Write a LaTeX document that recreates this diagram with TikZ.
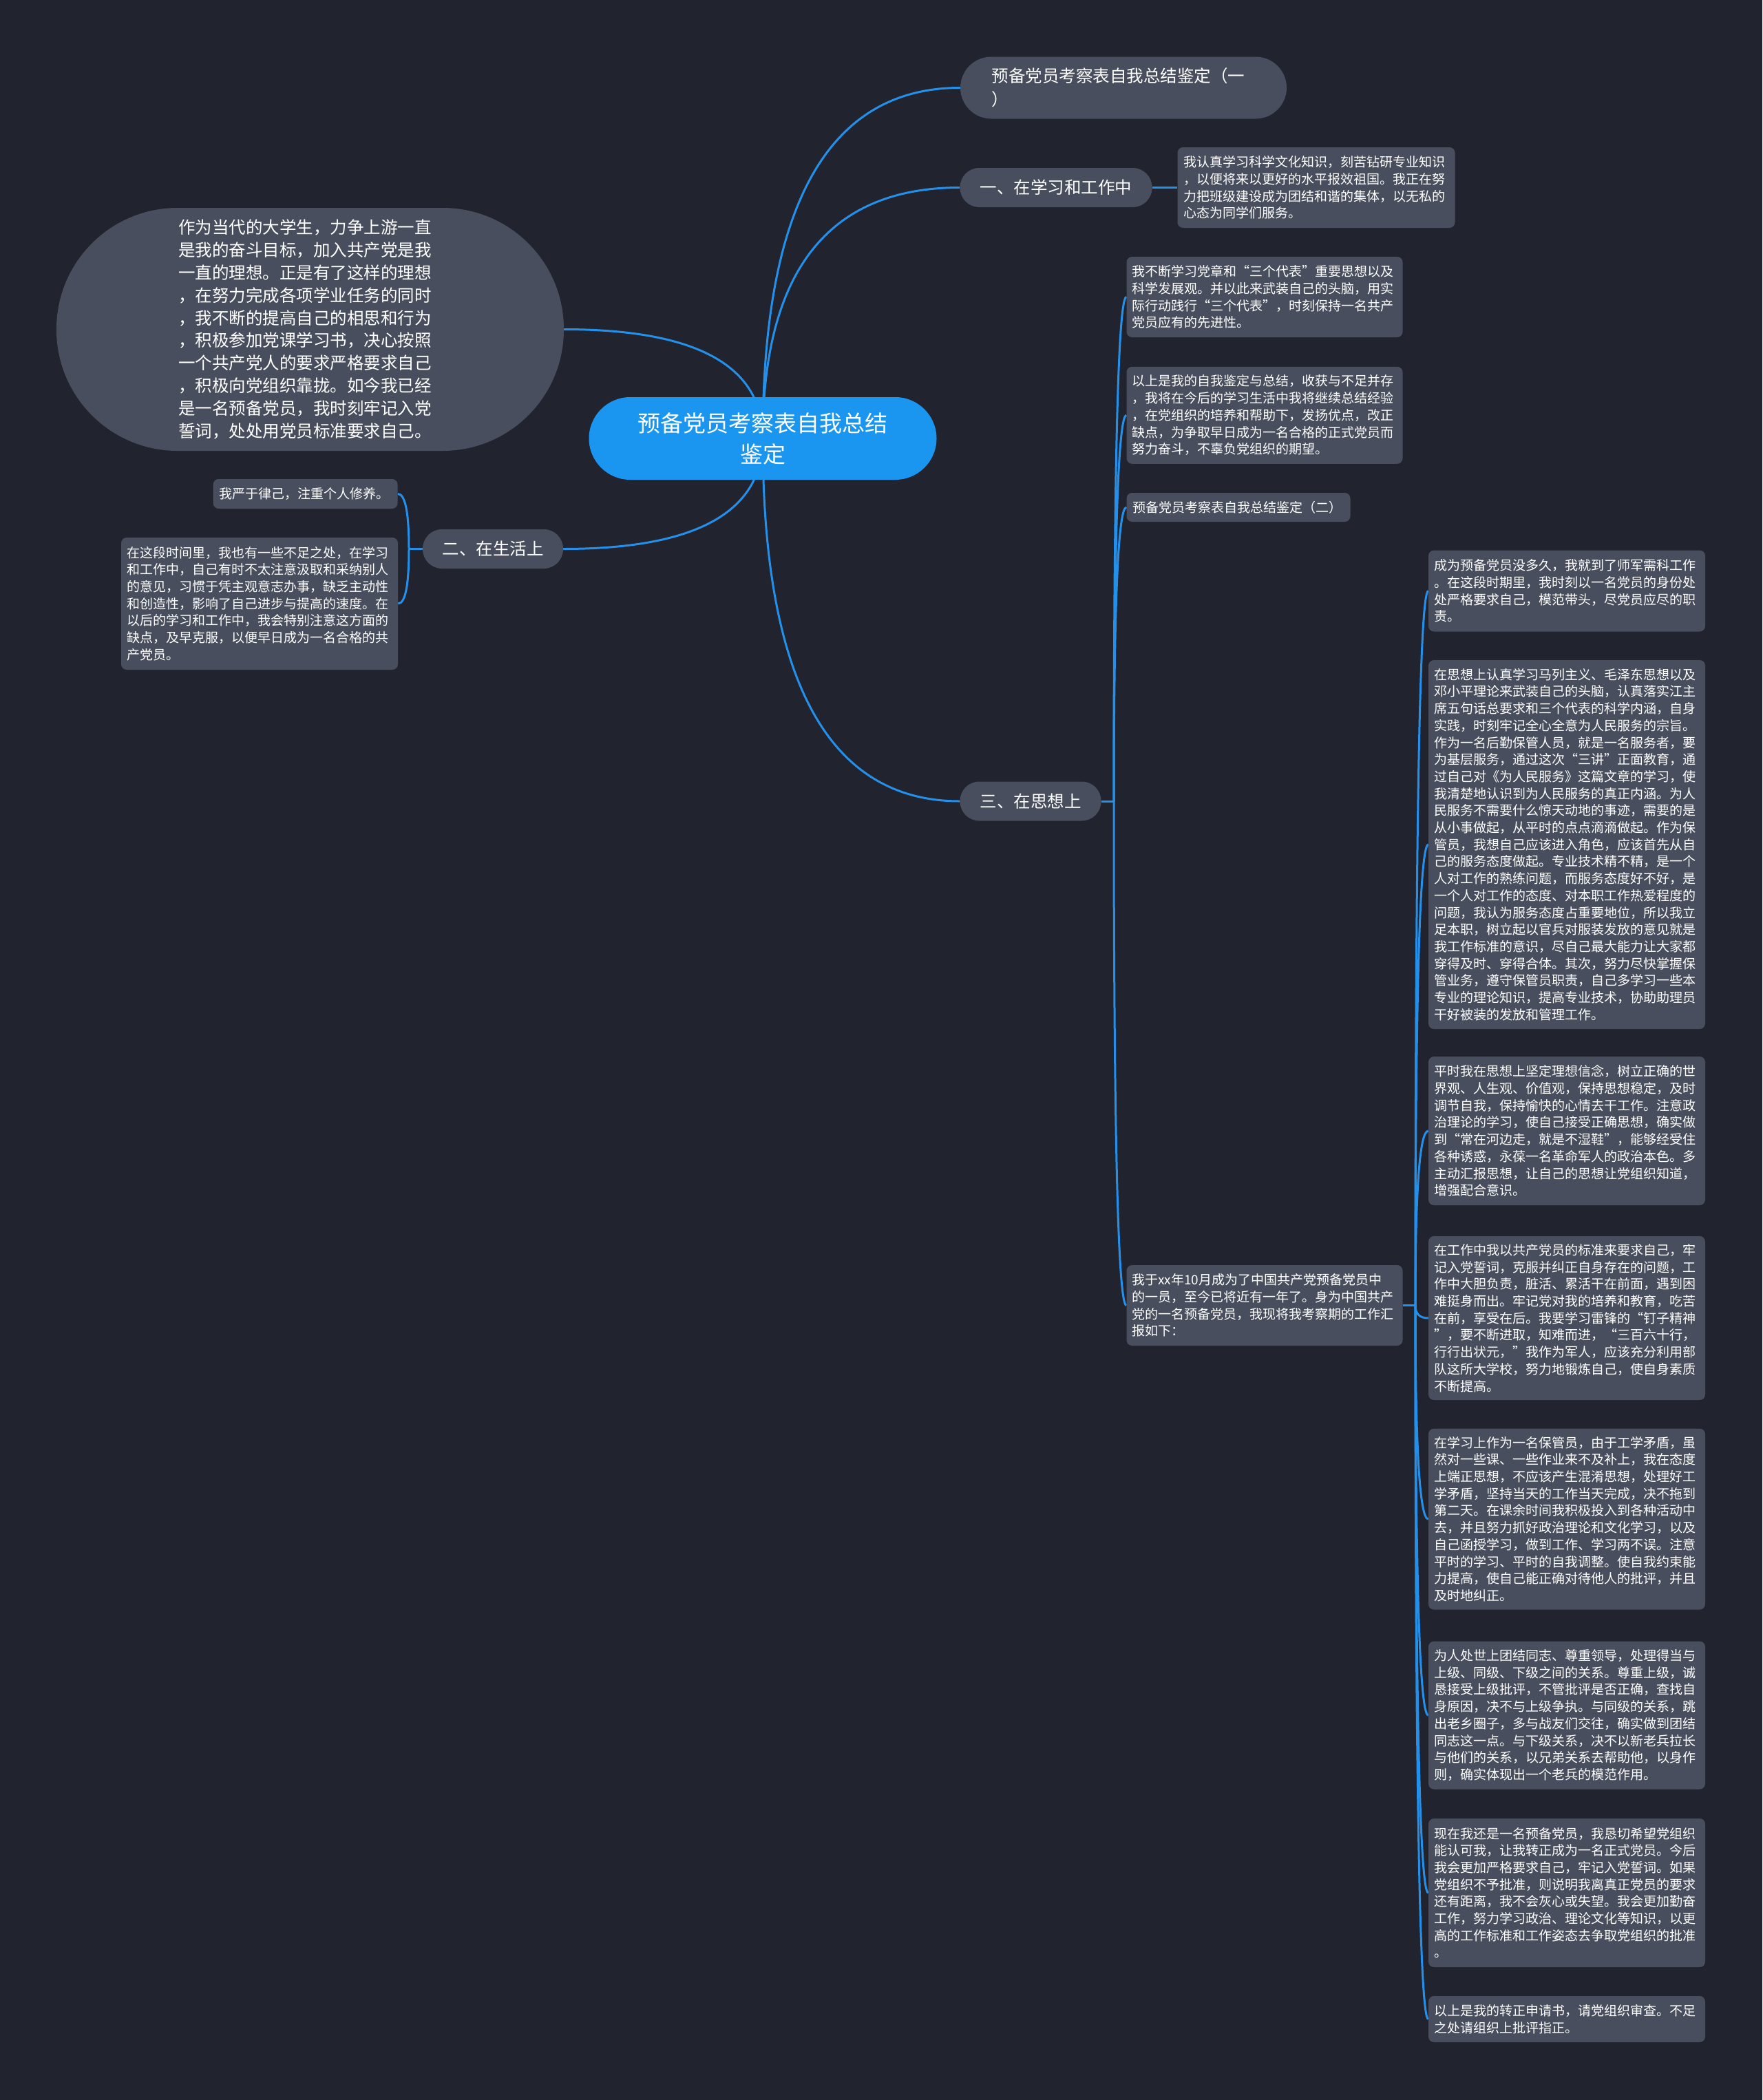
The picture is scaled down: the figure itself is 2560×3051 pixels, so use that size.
\documentclass[tikz,border=0pt]{standalone}
\usepackage{fontspec}
\setmainfont{Noto Sans CJK SC}
\usetikzlibrary{calc}
\definecolor{bgc}{HTML}{21242E}
\definecolor{boxc}{HTML}{484E5D}
\definecolor{rootc}{HTML}{1B96F0}
\definecolor{linec}{HTML}{2590EA}
\pgfdeclarelayer{bgl}
\pgfdeclarelayer{edgel}
\pgfsetlayers{bgl,edgel,main}
\newcommand\qcurve[2]{\draw[edge] (#1) .. controls ($(#1)!0.6667!(#1 |- #2)$) and ($(#2)!0.6667!(#1 |- #2)$) .. (#2);}
\tikzset{
  base/.style={inner sep=0pt, text=white, fill=boxc},
  txt/.style={base, rounded corners=8pt, align=left, text width=385pt, font=\fontsize{19pt}{24.7pt}\selectfont},
  topic/.style={base, rounded corners=28pt, align=center, minimum height=57pt, font=\fontsize{24.5pt}{33pt}\selectfont},
  edge/.style={draw=linec, line width=3pt},
}
\begin{document}
\begin{tikzpicture}[x=1pt, y=-1pt]
\useasboundingbox (0,0) rectangle (2560,3051);
\begin{pgfonlayer}{bgl}
\fill[bgc] (0,0) rectangle (2560,3051);
\end{pgfonlayer}

% root
\node[base, fill=rootc, rounded corners=60pt, align=center, minimum width=505pt, minimum height=120pt, font=\fontsize{33pt}{45pt}\selectfont] (root) at (1108,637) {预备党员考察表自我总结\\鉴定};

% top level
\node[topic, rounded corners=45pt, align=left, text width=383pt, minimum width=474pt, minimum height=90pt, font=\fontsize{24.5pt}{34pt}\selectfont] (top1) at (1632,127.5) {预备党员考察表自我总结鉴定（一\\）};
\node[topic, minimum width=279pt] (s1) at (1534,272.5) {一、在学习和工作中};
\node[topic, minimum width=204pt] (s2) at (716,797.5) {二、在生活上};
\node[topic, minimum width=205pt] (s3) at (1497,1164) {三、在思想上};
\node[base, rounded corners=176pt, align=left, text width=383pt, minimum width=737pt, minimum height=353pt, font=\fontsize{24.5pt}{32.8pt}\selectfont] (big) at (450.5,478.5) {作为当代的大学生，力争上游一直\\是我的奋斗目标，加入共产党是我\\一直的理想。正是有了这样的理想\\，在努力完成各项学业任务的同时\\，我不断的提高自己的相思和行为\\，积极参加党课学习书，决心按照\\一个共产党人的要求严格要求自己\\，积极向党组织靠拢。如今我已经\\是一名预备党员，我时刻牢记入党\\誓词，处处用党员标准要求自己。};

% section 1 child
\node[txt, minimum width=403pt, minimum height=117pt] (t1) at (1912,272.5) {我认真学习科学文化知识，刻苦钻研专业知识\\，以便将来以更好的水平报效祖国。我正在努\\力把班级建设成为团结和谐的集体，以无私的\\心态为同学们服务。};

% section 2 children
\node[txt, text width=250pt, minimum width=268pt, minimum height=43pt] (l1) at (443.6,717.5) {我严于律己，注重个人修养。};
\node[txt, minimum width=402pt, minimum height=192pt] (l2) at (377,877) {在这段时间里，我也有一些不足之处，在学习\\和工作中，自己有时不太注意汲取和采纳别人\\的意见，习惯于凭主观意志办事，缺乏主动性\\和创造性，影响了自己进步与提高的速度。在\\以后的学习和工作中，我会特别注意这方面的\\缺点，及早克服，以便早日成为一名合格的共\\产党员。};

% section 3 children
\node[txt, minimum width=401pt, minimum height=117pt] (a) at (1837,431.5) {我不断学习党章和“三个代表”重要思想以及\\科学发展观。并以此来武装自己的头脑，用实\\际行动践行“三个代表”，时刻保持一名共产\\党员应有的先进性。};
\node[txt, minimum width=401pt, minimum height=141pt] (b) at (1837,603.3) {以上是我的自我鉴定与总结，收获与不足并存\\，我将在今后的学习生活中我将继续总结经验\\，在党组织的培养和帮助下，发扬优点，改正\\缺点，为争取早日成为一名合格的正式党员而\\努力奋斗，不辜负党组织的期望。};
\node[txt, text width=307pt, minimum width=325pt, minimum height=42pt] (c) at (1799,737) {预备党员考察表自我总结鉴定（二）};
\node[txt, minimum width=401pt, minimum height=117pt] (d) at (1837,1896.5) {我于xx年10月成为了中国共产党预备党员中\\的一员，至今已将近有一年了。身为中国共产\\党的一名预备党员，我现将我考察期的工作汇\\报如下：};

% grandchildren of d
\node[txt, minimum width=402pt, minimum height=118pt] (e1) at (2276,858.5) {成为预备党员没多久，我就到了师军需科工作\\。在这段时期里，我时刻以一名党员的身份处\\处严格要求自己，模范带头，尽党员应尽的职\\责。};
\node[txt, minimum width=402pt, minimum height=536pt] (e2) at (2276,1227) {在思想上认真学习马列主义、毛泽东思想以及\\邓小平理论来武装自己的头脑，认真落实江主\\席五句话总要求和三个代表的科学内涵，自身\\实践，时刻牢记全心全意为人民服务的宗旨。\\作为一名后勤保管人员，就是一名服务者，要\\为基层服务，通过这次“三讲”正面教育，通\\过自己对《为人民服务》这篇文章的学习，使\\我清楚地认识到为人民服务的真正内涵。为人\\民服务不需要什么惊天动地的事迹，需要的是\\从小事做起，从平时的点点滴滴做起。作为保\\管员，我想自己应该进入角色，应该首先从自\\己的服务态度做起。专业技术精不精，是一个\\人对工作的熟练问题，而服务态度好不好，是\\一个人对工作的态度、对本职工作热爱程度的\\问题，我认为服务态度占重要地位，所以我立\\足本职，树立起以官兵对服装发放的意见就是\\我工作标准的意识，尽自己最大能力让大家都\\穿得及时、穿得合体。其次，努力尽快掌握保\\管业务，遵守保管员职责，自己多学习一些本\\专业的理论知识，提高专业技术，协助助理员\\干好被装的发放和管理工作。};
\node[txt, minimum width=402pt, minimum height=216pt] (e3) at (2276,1643) {平时我在思想上坚定理想信念，树立正确的世\\界观、人生观、价值观，保持思想稳定，及时\\调节自我，保持愉快的心情去干工作。注意政\\治理论的学习，使自己接受正确思想，确实做\\到“常在河边走，就是不湿鞋”，能够经受住\\各种诱惑，永葆一名革命军人的政治本色。多\\主动汇报思想，让自己的思想让党组织知道，\\增强配合意识。};
\node[txt, minimum width=402pt, minimum height=238pt] (e4) at (2276,1915) {在工作中我以共产党员的标准来要求自己，牢\\记入党誓词，克服并纠正自身存在的问题，工\\作中大胆负责，脏活、累活干在前面，遇到困\\难挺身而出。牢记党对我的培养和教育，吃苦\\在前，享受在后。我要学习雷锋的“钉子精神\\”，要不断进取，知难而进，“三百六十行，\\行行出状元，”我作为军人，应该充分利用部\\队这所大学校，努力地锻炼自己，使自身素质\\不断提高。};
\node[txt, minimum width=402pt, minimum height=263pt] (e5) at (2276,2207) {在学习上作为一名保管员，由于工学矛盾，虽\\然对一些课、一些作业来不及补上，我在态度\\上端正思想，不应该产生混淆思想，处理好工\\学矛盾，坚持当天的工作当天完成，决不拖到\\第二天。在课余时间我积极投入到各种活动中\\去，并且努力抓好政治理论和文化学习，以及\\自己函授学习，做到工作、学习两不误。注意\\平时的学习、平时的自我调整。使自我约束能\\力提高，使自己能正确对待他人的批评，并且\\及时地纠正。};
\node[txt, minimum width=402pt, minimum height=215pt] (e6) at (2276,2492) {为人处世上团结同志、尊重领导，处理得当与\\上级、同级、下级之间的关系。尊重上级，诚\\恳接受上级批评，不管批评是否正确，查找自\\身原因，决不与上级争执。与同级的关系，跳\\出老乡圈子，多与战友们交往，确实做到团结\\同志这一点。与下级关系，决不以新老兵拉长\\与他们的关系，以兄弟关系去帮助他，以身作\\则，确实体现出一个老兵的模范作用。};
\node[txt, minimum width=402pt, minimum height=216pt] (e7) at (2276,2750) {现在我还是一名预备党员，我恳切希望党组织\\能认可我，让我转正成为一名正式党员。今后\\我会更加严格要求自己，牢记入党誓词。如果\\党组织不予批准，则说明我离真正党员的要求\\还有距离，我不会灰心或失望。我会更加勤奋\\工作，努力学习政治、理论文化等知识，以更\\高的工作标准和工作姿态去争取党组织的批准\\。};
\node[txt, minimum width=402pt, minimum height=67pt] (e8) at (2276,2933.5) {以上是我的转正申请书，请党组织审查。不足\\之处请组织上批评指正。};

% junctions
\coordinate (j2) at (594,797.5);
\coordinate (j3) at (1618,1164);
\coordinate (jd) at (2056,1896.5);

\begin{pgfonlayer}{edgel}
\qcurve{root.center}{top1.west}
\qcurve{root.center}{s1.west}
\qcurve{root.center}{big.east}
\qcurve{root.center}{s2.east}
\qcurve{root.center}{s3.west}
\draw[edge] (s1.east) -- (t1.west);
\draw[edge] (s2.west) -- (j2);
\qcurve{j2}{l1.east}
\qcurve{j2}{l2.east}
\draw[edge] (s3.east) -- (j3);
\qcurve{j3}{a.west}
\qcurve{j3}{b.west}
\qcurve{j3}{c.west}
\qcurve{j3}{d.west}
\draw[edge] (d.east) -- (jd);
\qcurve{jd}{e1.west}
\qcurve{jd}{e2.west}
\qcurve{jd}{e3.west}
\qcurve{jd}{e4.west}
\qcurve{jd}{e5.west}
\qcurve{jd}{e6.west}
\qcurve{jd}{e7.west}
\qcurve{jd}{e8.west}
\end{pgfonlayer}
\end{tikzpicture}
\end{document}
